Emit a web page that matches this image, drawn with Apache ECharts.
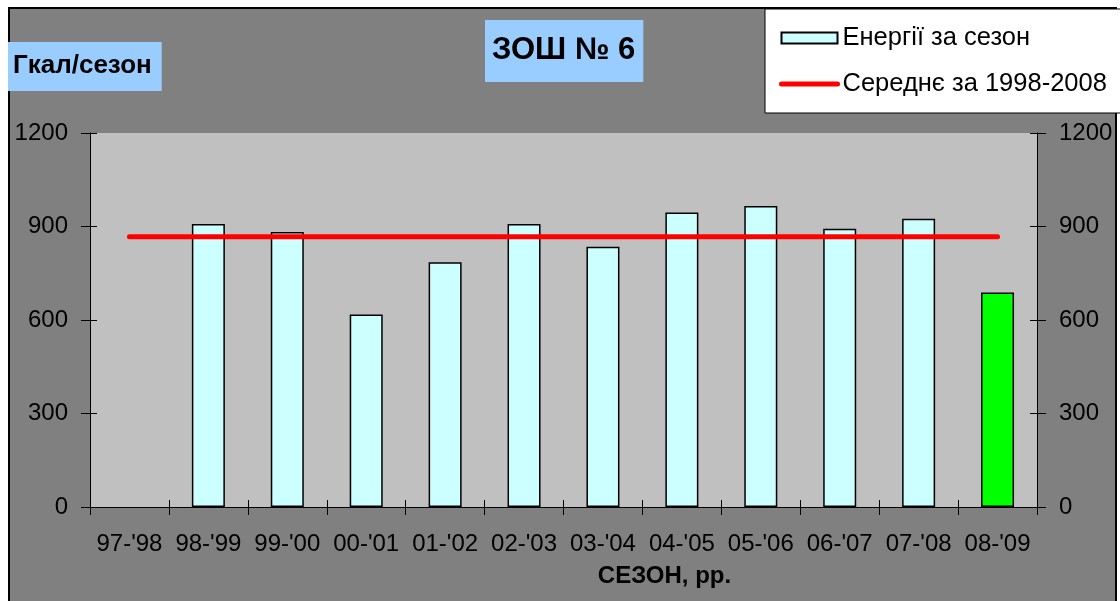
<!DOCTYPE html>
<html>
<head>
<meta charset="utf-8">
<script src="https://cdn.jsdelivr.net/npm/echarts@6/dist/echarts.min.js"></script>
<style>
  html, body { margin: 0; padding: 0; background: #ffffff; }
  #chart { width: 1120px; height: 601px; }
</style>
</head>
<body>
<div id="chart"></div>
<script>
// Heating seasons
var seasons = ["97-'98", "98-'99", "99-'00", "00-'01", "01-'02", "02-'03",
               "03-'04", "04-'05", "05-'06", "06-'07", "07-'08", "08-'09"];
// Energy consumed per season, Gcal (no data for 97-'98)
var energyValues = [null, 908, 882, 618, 785, 908, 835, 945, 966, 893, 925, 688];
// Average for 1998-2008, Gcal
var averageValues = [867, 867, 867, 867, 867, 867, 867, 867, 867, 867, 867, 867];
// Value axis ticks
var yTicks = [0, 300, 600, 900, 1200];

var FONT = 'Arial, "Liberation Sans", sans-serif';
var currentSeason = "08-'09";

var chart = echarts.init(document.getElementById('chart'), null, { renderer: 'canvas' });

var yMin = yTicks[0];
var yMax = yTicks[yTicks.length - 1];
var yStep = yTicks[1] - yTicks[0];

function valueAxis(gridIndex, position, inside, showLabel) {
  return {
    type: 'value',
    gridIndex: gridIndex,
    position: position,
    min: yMin, max: yMax, interval: yStep,
    splitLine: { show: false },
    axisLine: { show: !inside, lineStyle: { color: '#000000', width: 1 } },
    axisTick: { show: true, inside: inside, length: inside ? 7 : 9, lineStyle: { color: '#000000', width: 1 } },
    axisLabel: {
      show: showLabel, margin: 22, color: '#000000', fontSize: 24, fontFamily: FONT,
      formatter: function (v) { return String(v); }
    }
  };
}

var option = {
  backgroundColor: '#ffffff',
  animation: false,
  graphic: [{
    type: 'rect',
    z: -10,
    shape: { x: 9, y: 8, width: 1107, height: 600 },
    style: { fill: '#808080', stroke: '#000000', lineWidth: 2 }
  }],
  title: [{
    text: 'ЗОШ № 6',
    left: 485, top: 20,
    padding: [15, 8, 16, 7],
    backgroundColor: '#99ccff',
    textStyle: { color: '#000000', fontSize: 31, fontWeight: 'bold', fontFamily: FONT, lineHeight: 31 }
  }, {
    text: 'Гкал/сезон',
    left: 8, top: 42,
    padding: [11, 10, 12, 5],
    backgroundColor: '#99ccff',
    textStyle: { color: '#000000', fontSize: 26, fontWeight: 'bold', fontFamily: FONT, lineHeight: 26 }
  }],
  legend: {
    orient: 'vertical',
    left: 765, top: 9,
    padding: [15, 30, 15, 14],
    itemGap: 18,
    itemWidth: 56,
    itemHeight: 11,
    backgroundColor: '#ffffff',
    borderColor: '#000000',
    borderWidth: 1,
    z: 20,
    textStyle: { color: '#000000', fontSize: 25.5, fontFamily: FONT, lineHeight: 28 },
    data: [
      { name: 'Енергії за сезон', icon: 'rect' },
      { name: 'Середнє за 1998-2008', itemStyle: { opacity: 0 }, lineStyle: { width: 5, color: '#ff0000', cap: 'round' } }
    ]
  },
  grid: [
    { left: 90, top: 133, right: 83, bottom: 94, show: true, backgroundColor: '#c0c0c0', borderWidth: 0 },
    { left: 90, top: 133, right: 83, bottom: 94, show: false }
  ],
  xAxis: [{
    type: 'category',
    gridIndex: 0,
    data: seasons,
    boundaryGap: true,
    axisLine: { show: true, lineStyle: { color: '#000000', width: 1 } },
    axisTick: { show: true, length: 8, interval: 0, lineStyle: { color: '#000000', width: 1 } },
    axisLabel: { interval: 0, margin: 25, color: '#000000', fontSize: 24, fontFamily: FONT },
    name: 'СЕЗОН, рр.',
    nameLocation: 'middle',
    nameGap: 57,
    nameTextStyle: { color: '#000000', fontSize: 24, fontWeight: 'bold', fontFamily: FONT, padding: [0, 0, 0, 202] }
  }, {
    type: 'category',
    gridIndex: 1,
    data: seasons,
    boundaryGap: true,
    axisLine: { show: false },
    axisTick: { show: true, inside: true, length: 7, interval: 0, lineStyle: { color: '#000000', width: 1 } },
    axisLabel: { show: false }
  }],
  yAxis: [
    valueAxis(0, 'left', false, true),
    valueAxis(0, 'right', false, true),
    valueAxis(1, 'left', true, false),
    valueAxis(1, 'right', true, false)
  ],
  series: [{
    name: 'Енергії за сезон',
    type: 'bar',
    xAxisIndex: 0,
    yAxisIndex: 0,
    barWidth: 33,
    itemStyle: { color: '#ccffff', borderColor: '#000000', borderWidth: 1.5 },
    data: energyValues.map(function (v, i) {
      if (seasons[i] === currentSeason) {
        return { value: v, itemStyle: { color: '#00ff00' } };
      }
      return v;
    }),
    z: 2
  }, {
    name: 'Середнє за 1998-2008',
    type: 'line',
    xAxisIndex: 0,
    yAxisIndex: 0,
    data: averageValues,
    symbol: 'none',
    showSymbol: false,
    itemStyle: { color: '#ff0000' },
    lineStyle: { color: '#ff0000', width: 5, cap: 'round' },
    z: 3
  }]
};

chart.setOption(option);
</script>
</body>
</html>
